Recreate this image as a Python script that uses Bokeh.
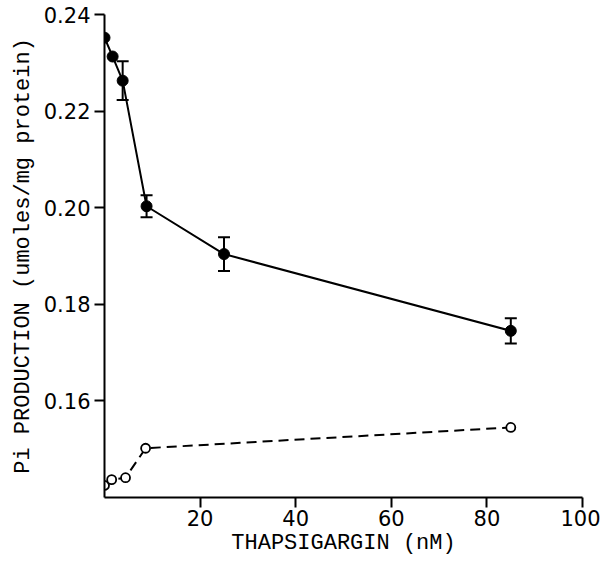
from bokeh.plotting import figure
from bokeh.models import Range1d, FixedTicker, PrintfTickFormatter, ColumnDataSource, Whisker, TeeHead
from bokeh.embed import file_html
from bokeh.resources import INLINE

# Thapsigargin (nM) and Pi production (umoles/mg protein)
x_filled = [0, 1.7, 3.8, 8.8, 25, 85]
y_filled = [0.2352, 0.2313, 0.2263, 0.2003, 0.1904, 0.1745]
err_filled = [0.0, 0.0, 0.0040, 0.0023, 0.0035, 0.0026]

x_open = [0, 1.5, 4.4, 8.6, 85]
y_open = [0.1425, 0.1437, 0.1441, 0.1502, 0.1545]

x_ticks = [20, 40, 60, 80, 100]
y_ticks = [0.16, 0.18, 0.20, 0.22, 0.24]

p = figure(width=600, height=564, output_backend="svg", toolbar_location=None,
           x_range=Range1d(0, 100), y_range=Range1d(0.14, 0.24),
           min_border_left=104, min_border_right=18, min_border_top=14, min_border_bottom=67)

p.outline_line_color = None
p.xgrid.visible = False
p.ygrid.visible = False
p.background_fill_color = "white"

for ax in (p.xaxis[0], p.yaxis[0]):
    ax.axis_line_width = 2
    ax.axis_line_color = "black"
    ax.major_tick_line_width = 2
    ax.major_tick_line_color = "black"
    ax.major_tick_in = 0
    ax.major_tick_out = 10
    ax.minor_tick_line_color = None
    ax.major_label_text_color = "black"
    ax.major_label_text_font = "DejaVu Sans"
    ax.axis_label_text_font = "Liberation Mono"
    ax.axis_label_text_font_size = "22px"
    ax.axis_label_text_font_style = "normal"
    ax.axis_label_text_color = "black"

p.xaxis[0].ticker = FixedTicker(ticks=x_ticks)
p.yaxis[0].ticker = FixedTicker(ticks=y_ticks)
p.yaxis[0].formatter = PrintfTickFormatter(format="%.2f")
p.xaxis[0].major_label_text_font_size = "21px"
p.yaxis[0].major_label_text_font_size = "21px"
p.xaxis[0].major_label_standoff = 2
p.yaxis[0].major_label_standoff = 4
p.xaxis[0].axis_label = "THAPSIGARGIN (nM)"
p.yaxis[0].axis_label = "Pi PRODUCTION (umoles/mg protein)"
p.xaxis[0].axis_label_standoff = 2
p.yaxis[0].axis_label_standoff = 5

# error bars
src = ColumnDataSource(dict(
    x=[x for x, e in zip(x_filled, err_filled) if e > 0],
    lo=[y - e for y, e in zip(y_filled, err_filled) if e > 0],
    hi=[y + e for y, e in zip(y_filled, err_filled) if e > 0],
))
w = Whisker(source=src, base="x", lower="lo", upper="hi", dimension="height",
            line_width=2, line_color="black",
            lower_head=TeeHead(size=12, line_width=2, line_color="black"),
            upper_head=TeeHead(size=12, line_width=2, line_color="black"))
p.add_layout(w)

# filled series
p.line(x_filled, y_filled, line_width=2, line_color="black")
p.scatter(x_filled, y_filled, size=11, fill_color="black", line_color="black")

# open series
p.line(x_open, y_open, line_width=2, line_color="black", line_dash="10 6")
p.scatter(x_open, y_open, size=9, fill_color="white", line_color="black", line_width=1.8)

open("out.html", "w").write(file_html(p, INLINE))
